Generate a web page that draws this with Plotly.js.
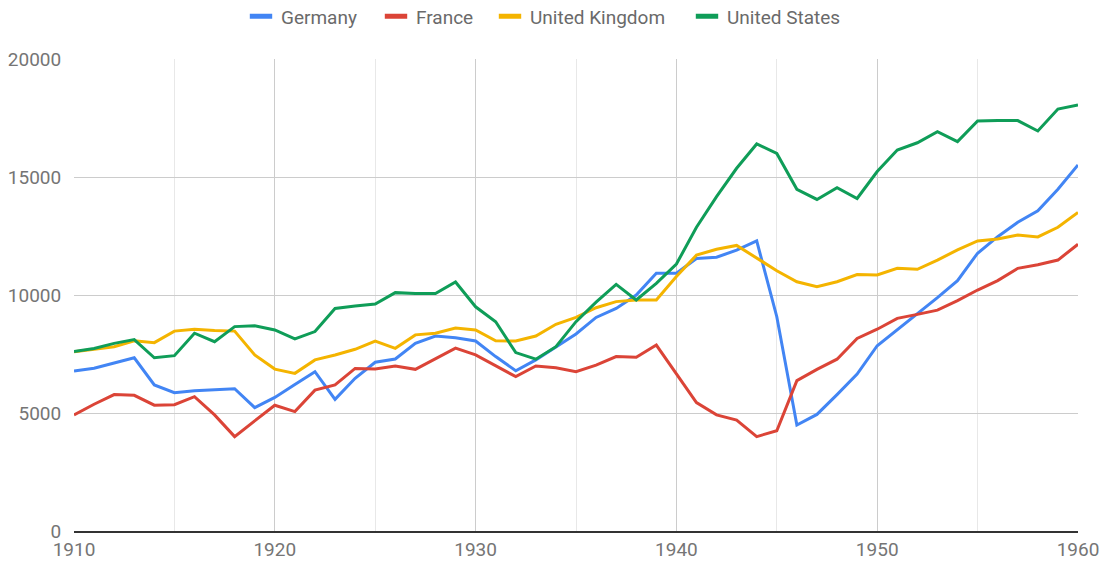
<!DOCTYPE html>
<html>
<head>
<meta charset="utf-8">
<script src="https://cdn.plot.ly/plotly-3.0.1.min.js"></script>
<style>html,body{margin:0;padding:0;background:#fff;}#chart{width:1110px;height:565px;}</style>
</head>
<body>
<div id="chart"></div>
<script>
const years = [];
for (let y = 1910; y <= 1960; y++) years.push(y);

const germany = [6780,6900,7120,7340,6190,5860,5940,5970,6030,5230,
  5660,6210,6750,5580,6470,7150,7290,7950,8260,8190,
  8050,7390,6790,7250,7810,8350,9050,9430,10000,10920,
  10920,11550,11600,11900,12290,9080,4490,4940,5780,6650,
  7850,8520,9180,9890,10610,11770,12470,13080,13570,14480,15510];

const france = [4920,5370,5780,5750,5330,5350,5690,4920,4000,4670,
  5330,5060,5970,6190,6890,6860,6990,6850,7310,7750,
  7460,6990,6540,6990,6920,6750,7030,7390,7360,7880,
  6680,5440,4920,4700,4000,4250,6370,6850,7280,8160,
  8550,9010,9180,9360,9760,10210,10610,11130,11280,11480,12150];

const uk = [7600,7700,7810,8060,7980,8470,8550,8500,8470,7460,
  6860,6680,7250,7460,7700,8050,7740,8310,8380,8600,
  8520,8060,8050,8260,8760,9050,9460,9720,9790,9790,
  10780,11690,11940,12100,11550,11030,10560,10350,10560,10870,
  10850,11130,11090,11480,11910,12290,12370,12540,12460,12870,13500];

const us = [7600,7730,7950,8110,7340,7430,8380,8020,8660,8700,
  8520,8140,8450,9430,9530,9620,10100,10060,10060,10550,
  9500,8870,7560,7280,7810,8870,9700,10450,9790,10490,
  11310,12870,14170,15370,16400,16000,14480,14050,14550,14090,
  15230,16140,16450,16920,16500,17370,17390,17390,16950,17880,18050];

const seriesNames = ['Germany','France','United Kingdom','United States'];
const seriesData = [germany, france, uk, us];
const colors = ['#4285F4','#DB4437','#F4B400','#0F9D58'];
const legendIds = ['legend','legend2','legend3','legend4'];
const legendTextX = [281, 416, 530, 727];

const traces = [];
seriesData.forEach((vals, i) => {
  traces.push({
    x: years, y: vals, type: 'scatter', mode: 'lines',
    name: seriesNames[i], showlegend: false,
    line: {color: colors[i], width: 3}, hoverinfo: 'x+y+name'
  });
});
seriesData.forEach((vals, i) => {
  traces.push({
    x: [null], y: [null], type: 'scatter', mode: 'markers',
    name: seriesNames[i], showlegend: true, legend: legendIds[i],
    marker: {symbol: 'line-ew', size: 20, color: colors[i], line: {color: colors[i], width: 5}}
  });
});

const font = {family: 'Roboto, sans-serif', size: 19, color: '#757575'};
const legendFont = {family: 'Roboto, sans-serif', size: 19, color: '#6a6a6a'};

const layout = {
  width: 1110, height: 565,
  margin: {l: 74, r: 32, t: 59, b: 34},
  paper_bgcolor: '#fff', plot_bgcolor: '#fff',
  font: font,
  showlegend: true,
  xaxis: {
    range: [1910, 1960], dtick: 10, tick0: 1910,
    showgrid: true, gridcolor: '#cccccc', gridwidth: 1,
    minor: {dtick: 5, tick0: 1910, showgrid: true, gridcolor: '#e8e8e8', gridwidth: 1},
    ticks: '',
    showline: true, linecolor: '#333333', linewidth: 2,
    zeroline: false, tickfont: font, fixedrange: true
  },
  yaxis: {
    range: [0, 20000], dtick: 5000, tick0: 0, tickformat: 'd',
    showgrid: true, gridcolor: '#cccccc', gridwidth: 1,
    ticks: 'outside', ticklen: 8, tickcolor: 'rgba(0,0,0,0)',
    zeroline: false, tickfont: font, showline: false, fixedrange: true
  }
};
legendIds.forEach((id, i) => {
  layout[id] = {
    orientation: 'h', xref: 'container', yref: 'container',
    x: (legendTextX[i] - 40) / 1110, xanchor: 'left',
    y: 1 - 16.5 / 565, yanchor: 'middle',
    font: legendFont, itemwidth: 30, bgcolor: 'rgba(0,0,0,0)', borderwidth: 0
  };
});

Plotly.newPlot('chart', traces, layout, {displayModeBar: false, staticPlot: true});
</script>
</body>
</html>
